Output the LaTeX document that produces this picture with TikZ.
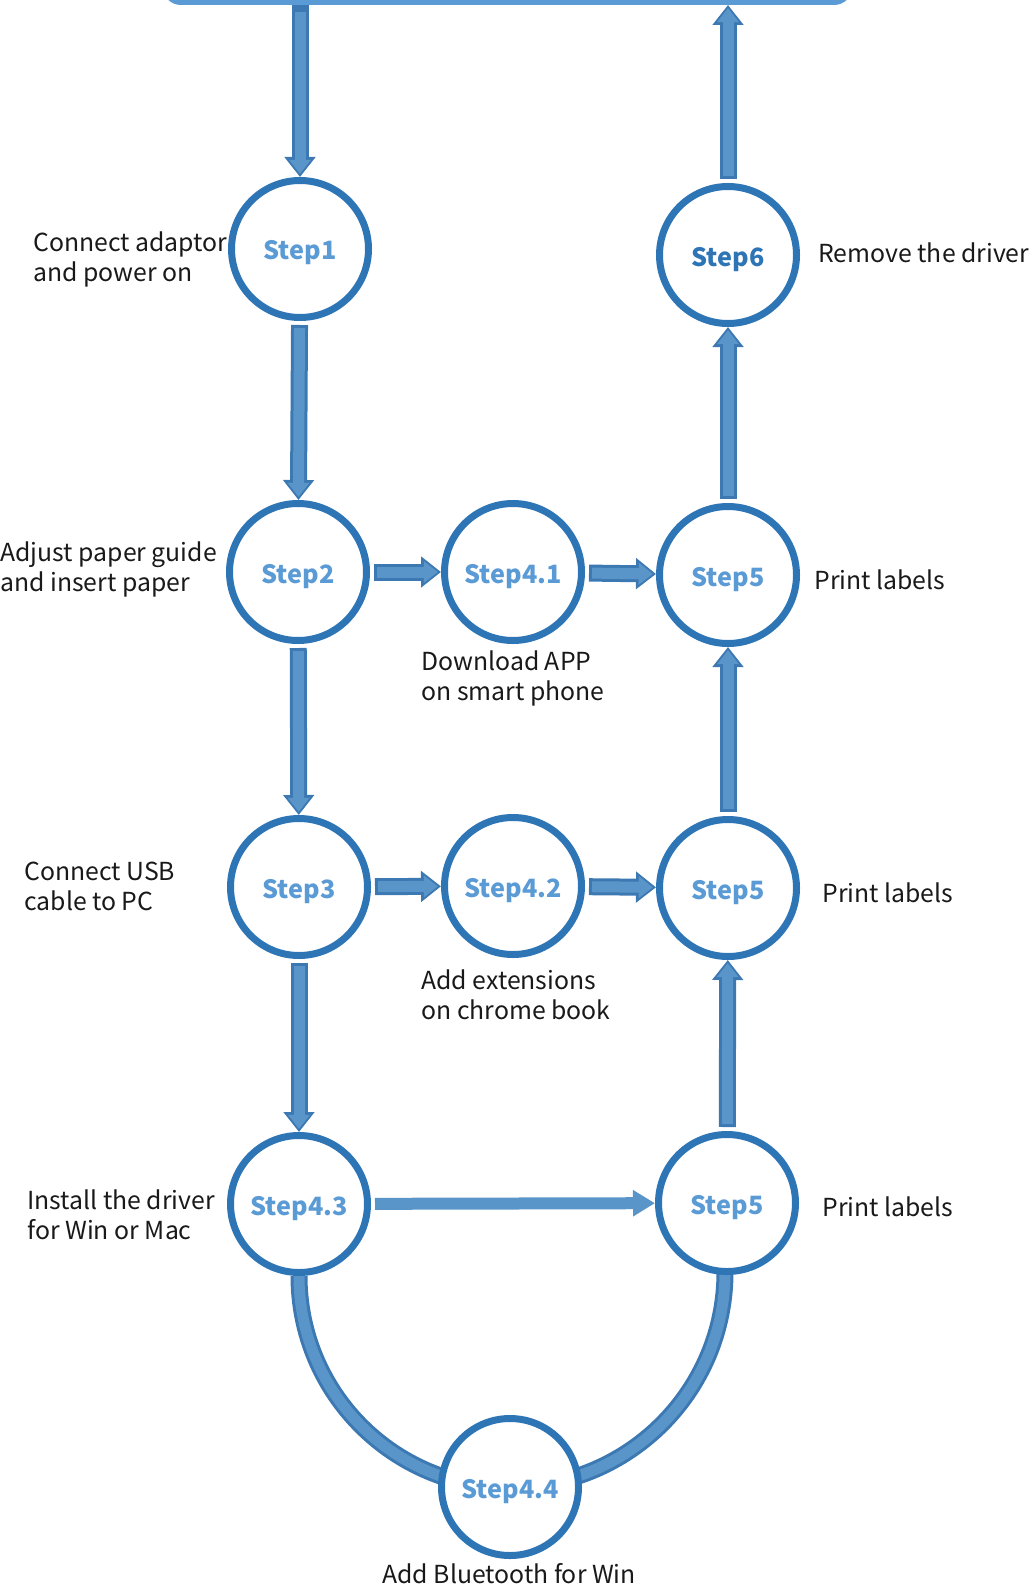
\documentclass[tikz,border=0pt]{standalone}
\usepackage{fontspec}
\setmainfont{Noto Sans CJK SC}
\usetikzlibrary{arrows.meta,backgrounds}
\definecolor{ring}{HTML}{2E75B6}
\definecolor{steptxt}{HTML}{5B9BD5}
\definecolor{arrowdark}{HTML}{3C78B2}
\definecolor{arrowlight}{HTML}{5A95C9}
\definecolor{boxline}{HTML}{5B9BD5}
\tikzset{
  stepnode/.style={circle, draw=ring, line width=3.5pt, fill=white, minimum size=68.5pt, inner sep=0pt,
    text height=13pt, text depth=2pt,
    font=\fontsize{12.6pt}{15pt}\selectfont\bfseries, text=steptxt},
  lbl/.style={anchor=west, align=left, inner sep=0pt, font=\fontsize{12.4pt}{15pt}\selectfont, text=black!90},
  blockarrow/.style={draw=arrowdark, line width=8.5pt, -{Triangle[width=15pt,length=10pt]}, shorten <=2pt,
    postaction={draw=arrowlight, line width=5.5pt, -{Triangle[width=10.5pt,length=7pt]}, shorten >=1.6pt, shorten <=3.5pt}},
  thinarrow/.style={draw=arrowlight, line width=6pt, -{Triangle[width=12.5pt,length=11pt]}, shorten <=2pt},
  bandarc/.style={draw=arrowdark, line width=1.5pt, double=arrowlight, double distance=5.5pt},
  topbox/.style={draw=boxline, line width=2.5pt, rounded corners=8pt, minimum width=342.5pt, minimum height=62.5pt, inner sep=0pt}
}
\begin{document}
\begin{tikzpicture}[x=0.5pt, y=-0.5pt]
\useasboundingbox (0,0) rectangle (1029,1589);
\clip (0,0) rectangle (1029,1589);
% top box (cut off)
\node[topbox] (top) at (507.5,-60) {};
% step circles
\node[stepnode] (s1) at (300,249) {Step1};
\node[stepnode, text=ring] (s6) at (728,255) {Step6};
\node[stepnode] (s2) at (298,572) {Step2};
\node[stepnode] (s41) at (513,572) {Step4.1};
\node[stepnode] (s5a) at (728,575) {Step5};
\node[stepnode] (s3) at (299,887) {Step3};
\node[stepnode] (s42) at (513,886) {Step4.2};
\node[stepnode] (s5b) at (728,888) {Step5};
\node[stepnode] (s43) at (299,1204) {Step4.3};
\node[stepnode] (s5c) at (727,1203) {Step5};
\node[stepnode] (s44) at (510,1487) {Step4.4};
% labels
\node[lbl] (l1) at (33,259) {Connect adaptor\\and power on};
\node[lbl] (l6) at (818,253) {Remove the driver};
\node[lbl] (l2) at (0,569) {Adjust paper guide\\and insert paper};
\node[lbl] (l5a) at (814,580) {Print labels};
\node[lbl] (l41) at (421,678) {Download APP\\on smart phone};
\node[lbl] (l3) at (24,886) {Connect USB\\cable to PC};
\node[lbl] (l5b) at (822,893) {Print labels};
\node[lbl] (l42) at (421,995) {Add extensions\\on chrome book};
\node[lbl] (l43) at (27,1215) {Install the driver\\for Win or Mac};
\node[lbl] (l5c) at (822,1207) {Print labels};
\node[lbl] (l44) at (382,1574) {Add Bluetooth for Win};
% connectors
\begin{scope}[on background layer]
\draw[blockarrow, shorten <=0pt] (top.south -| s1) -- (s1);
\draw[blockarrow] (s1) -- (s2);
\draw[blockarrow] (s2) -- (s3);
\draw[blockarrow] (s3) -- (s43);
\draw[blockarrow] (s2) -- (s41);
\draw[blockarrow] (s41) -- (s5a);
\draw[blockarrow] (s3) -- (s42);
\draw[blockarrow] (s42) -- (s5b);
\draw[thinarrow] (s43) -- (s5c);
\draw[blockarrow] (s5c) -- (s5b);
\draw[blockarrow] (s5b) -- (s5a);
\draw[blockarrow] (s5a) -- (s6);
\draw[blockarrow] (s6) -- (top.south -| s6);
\draw[bandarc] (s43.south) arc[start angle=180, end angle=90, radius=212];
\draw[bandarc] (s44.center) arc[start angle=90, end angle=0, radius=215];
\end{scope}
\end{tikzpicture}
\end{document}
